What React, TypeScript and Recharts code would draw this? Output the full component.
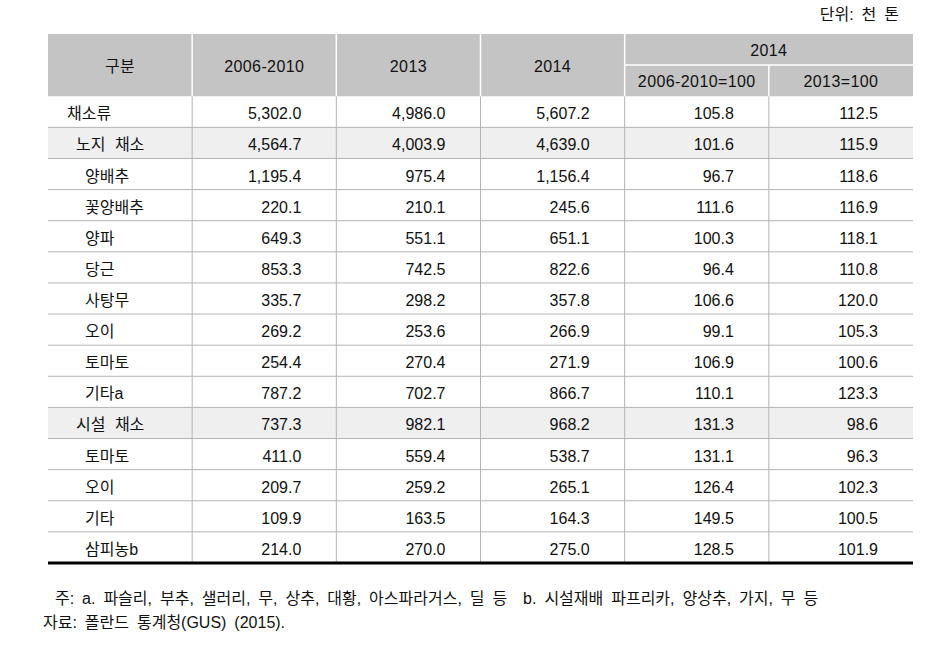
import React from "react";
import {
  ComposedChart,
  Scatter,
  XAxis,
  YAxis,
  ReferenceArea,
  ReferenceLine,
} from "recharts";

// 행 구분 (들여쓰기 단계)
const categories = [
  "채소류", "노지 채소", "양배추", "꽃양배추", "양파", "당근", "사탕무", "오이",
  "토마토", "기타a", "시설 채소", "토마토", "오이", "기타", "삼피농b",
];
const levels = [0, 1, 2, 2, 2, 2, 2, 2, 2, 2, 1, 2, 2, 2, 2];
const shadedRows = ["노지 채소", "시설 채소"];

const avg0610 = [5302.0, 4564.7, 1195.4, 220.1, 649.3, 853.3, 335.7, 269.2, 254.4, 787.2, 737.3, 411.0, 209.7, 109.9, 214.0];
const y2013 = [4986.0, 4003.9, 975.4, 210.1, 551.1, 742.5, 298.2, 253.6, 270.4, 702.7, 982.1, 559.4, 259.2, 163.5, 270.0];
const y2014 = [5607.2, 4639.0, 1156.4, 245.6, 651.1, 822.6, 357.8, 266.9, 271.9, 866.7, 968.2, 538.7, 265.1, 164.3, 275.0];
const idx0610 = [105.8, 101.6, 96.7, 111.6, 100.3, 96.4, 106.6, 99.1, 106.9, 110.1, 131.3, 131.1, 126.4, 149.5, 128.5];
const idx2013 = [112.5, 115.9, 118.6, 116.9, 118.1, 110.8, 120.0, 105.3, 100.6, 123.3, 98.6, 96.3, 102.3, 100.5, 101.9];

// 헤더 셀: [텍스트, 열 중심, 행 중심]
const headerCells: [string, number, number][] = [
  ["구분", 0.5, 1],
  ["2006-2010", 1.5, 1],
  ["2013", 2.5, 1],
  ["2014", 3.5, 1],
  ["2014", 5, 0.5],
  ["2006-2010=100", 4.5, 1.5],
  ["2013=100", 5.5, 1.5],
];

const unitText = "단위: 천 톤";
const noteText = "주: a. 파슬리, 부추, 샐러리, 무, 상추, 대황, 아스파라거스, 딜 등  b. 시설재배 파프리카, 양상추, 가지, 무 등";
const sourceText = "자료: 폴란드 통계청(GUS) (2015).";

const W = 947;
const H = 647;
const FONT = '"Liberation Sans", "Noto Sans CJK KR", sans-serif';
const HEADER_ROWS = 2;
const NCOLS = 6;
const NROWS = HEADER_ROWS + categories.length;

const fmt = (v: number) =>
  v.toLocaleString("en-US", { minimumFractionDigits: 1, maximumFractionDigits: 1 });

const valueColumns = [avg0610, y2013, y2014, idx0610, idx2013];

const labelData = categories.map((name, i) => ({
  x: 0,
  y: HEADER_ROWS + i + 0.5,
  text: name,
  level: levels[i],
}));

const valueData = valueColumns.map((col, c) =>
  col.map((v, i) => ({ x: c + 2, y: HEADER_ROWS + i + 0.5, text: fmt(v) }))
);

const headerData = headerCells.map(([text, x, y]) => ({ x, y, text }));

const INDENT = [19, 28, 37];

const LabelShape = (props: any) => (
  <text
    x={props.cx + INDENT[props.payload.level]}
    y={props.cy + 2}
    dominantBaseline="central"
    fontSize={16}
    fontFamily={FONT}
    fill="#111"
    style={{ wordSpacing: 5 }}
  >
    {props.payload.text}
  </text>
);

const ValueShape = (props: any) => (
  <text
    x={props.cx - 35}
    y={props.cy + 2}
    textAnchor="end"
    dominantBaseline="central"
    fontSize={16}
    fontFamily={FONT}
    fill="#111"
  >
    {props.payload.text}
  </text>
);

const HeaderShape = (props: any) => (
  <text
    x={props.cx}
    y={props.cy + 1}
    textAnchor="middle"
    dominantBaseline="central"
    fontSize={16}
    fontFamily={FONT}
    fill="#111"
    style={{ letterSpacing: 0.4 }}
  >
    {props.payload.text}
  </text>
);

export default function App() {
  const rowLines = [];
  for (let r = HEADER_ROWS + 1; r < NROWS; r++) rowLines.push(r);
  const colLines = [];
  for (let c = 1; c < NCOLS; c++) colLines.push(c);

  const noteStyle: React.CSSProperties = {
    position: "absolute",
    fontFamily: FONT,
    fontSize: 16,
    color: "#111",
    whiteSpace: "pre",
    wordSpacing: 3.5,
  };

  return (
    <div style={{ position: "absolute", left: 0, top: 0, width: W, height: H, background: "#fff" }}>
      <div style={{ ...noteStyle, right: W - 899, top: 1 }}>{unitText}</div>
      <ComposedChart
        width={W}
        height={H}
        margin={{ top: 34, right: W - 913, bottom: H - 563, left: 48 }}
      >
        <XAxis type="number" dataKey="x" domain={[0, NCOLS]} hide allowDataOverflow />
        <YAxis type="number" dataKey="y" domain={[0, NROWS]} reversed hide allowDataOverflow />

        <ReferenceArea x1={0} x2={NCOLS} y1={0} y2={HEADER_ROWS} fill="#c4c4c4" fillOpacity={1} stroke="none" />
        {categories.map((name, i) =>
          shadedRows.includes(name) ? (
            <ReferenceArea
              key={"sh" + i}
              x1={0}
              x2={NCOLS}
              y1={HEADER_ROWS + i}
              y2={HEADER_ROWS + i + 1}
              fill="#efefef"
              fillOpacity={1}
              stroke="none"
            />
          ) : null
        )}

        {rowLines.map((r) => (
          <ReferenceLine key={"r" + r} y={r} stroke="#b4b4b4" strokeWidth={1} />
        ))}
        {colLines.map((c) => (
          <ReferenceLine
            key={"cd" + c}
            segment={[{ x: c, y: HEADER_ROWS }, { x: c, y: NROWS }]}
            stroke="#b4b4b4"
            strokeWidth={1}
          />
        ))}
        {colLines.map((c) => (
          <ReferenceLine
            key={"ch" + c}
            segment={[{ x: c, y: c === 5 ? 1 : 0 }, { x: c, y: HEADER_ROWS }]}
            stroke="#ffffff"
            strokeWidth={1.5}
          />
        ))}
        <ReferenceLine segment={[{ x: 4, y: 1 }, { x: NCOLS, y: 1 }]} stroke="#ffffff" strokeWidth={1.5} />
        <ReferenceLine y={NROWS} stroke="#000" strokeWidth={3} />

        <Scatter data={headerData} shape={HeaderShape} isAnimationActive={false} />
        <Scatter data={labelData} shape={LabelShape} isAnimationActive={false} />
        {valueData.map((d, c) => (
          <Scatter key={"v" + c} data={d} shape={ValueShape} isAnimationActive={false} />
        ))}
      </ComposedChart>
      <div style={{ ...noteStyle, left: 55, top: 585 }}>{noteText}</div>
      <div style={{ ...noteStyle, left: 43, top: 609 }}>{sourceText}</div>
    </div>
  );
}
